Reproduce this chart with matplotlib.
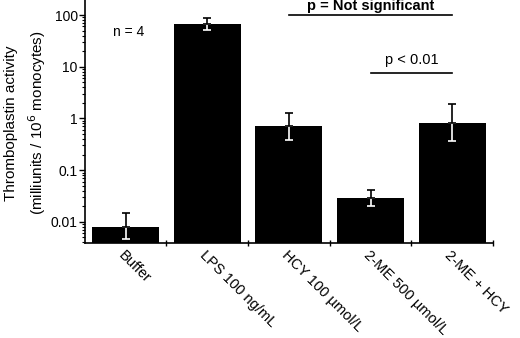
import numpy as np
import matplotlib.pyplot as plt
from matplotlib.ticker import LogLocator, FixedLocator, NullFormatter

plt.rcParams['font.family'] = ['Liberation Sans Narrow', 'Liberation Sans', 'DejaVu Sans']

# data
categories = ["Buffer", "LPS 100 ng/mL", "HCY 100 \u00b5mol/L", "2-ME 500 \u00b5mol/L", "2-ME + HCY"]
values = [0.008, 67, 0.70, 0.029, 0.82]
err_low = [0.0047, 51, 0.376, 0.0204, 0.364]
err_high = [0.0149, 89, 1.27, 0.042, 1.89]

x = np.arange(len(categories))
values = np.array(values)
lo = values - np.array(err_low)
hi = np.array(err_high) - values

fig = plt.figure(figsize=(5.2, 3.38), dpi=100)
ax = fig.add_axes([0.163, 0.281, 0.785, 0.719])

ax.bar(x, values, width=0.82, color='black', zorder=2)
# lower half of the error bars sits inside the black bar -> white
ax.errorbar(x, values, yerr=[lo, np.zeros_like(lo)], fmt='none', ecolor='white',
            elinewidth=1.2, capsize=3, capthick=1.2, zorder=3)
ax.errorbar(x, values, yerr=[np.zeros_like(hi), hi], fmt='none', ecolor='black',
            elinewidth=1.2, capsize=3, capthick=1.2, zorder=3)

ax.set_yscale('log')
ax.set_ylim(0.0039, 195)
ax.set_xlim(-0.5, len(categories) - 0.5)

ax.yaxis.set_major_locator(FixedLocator([0.01, 0.1, 1, 10, 100]))
ax.set_yticklabels(["0.01", "0.1", "1", "10", "100"], fontsize=10)
ax.yaxis.set_minor_locator(LogLocator(base=10, subs=np.arange(2, 10)))
ax.yaxis.set_minor_formatter(NullFormatter())
ax.tick_params(axis='y', which='major', length=4, width=1, direction='out', pad=1)
ax.tick_params(axis='y', which='minor', length=2, width=0.8, direction='out')

# ticks at the category boundaries, labels at the centres
ax.set_xticks(x + 0.5)
ax.set_xticklabels([])
ax.tick_params(axis='x', which='major', length=4, width=1, direction='inout')
ax.set_xticks(x, minor=True)
ax.set_xticklabels(categories, minor=True, rotation=-45, ha='left', va='top',
                   rotation_mode='anchor', fontsize=10.5)
ax.tick_params(axis='x', which='minor', length=0, pad=4)

for s in ['top', 'right']:
    ax.spines[s].set_visible(False)
for s in ['left', 'bottom']:
    ax.spines[s].set_linewidth(1.2)

# y label as two separately placed lines
fig.text(11 / 520, 1 - 123 / 338, "Thromboplastin activity", rotation=90,
         ha='center', va='center', fontsize=11)
fig.text(37 / 520, 1 - 123 / 338, "(milliunits / 10$^6$ monocytes)", rotation=90,
         ha='center', va='center', fontsize=11)

ax.text(0.04, 47, "n = 4", fontsize=10, ha='center', va='center')

# significance bars
ax.plot([2, 4], [100, 100], color='black', lw=1.2, clip_on=False)
ax.text(3, 149, "p = Not significant", fontsize=10.5, fontweight='bold', ha='center', va='center')
ax.plot([3, 4], [7.4, 7.4], color='black', lw=1.2, clip_on=False)
ax.text(3.5, 13.7, "p < 0.01", fontsize=10.5, ha='center', va='center')

fig.savefig("out.png", dpi=100)
